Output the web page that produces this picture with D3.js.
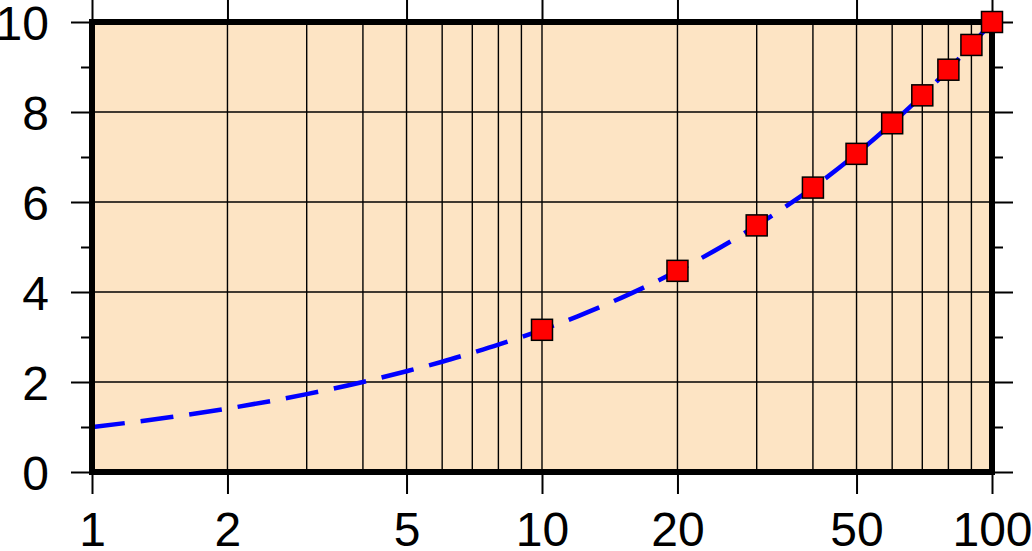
<!DOCTYPE html>
<html><head><meta charset="utf-8">
<script src="https://cdn.jsdelivr.net/npm/d3@7"></script>
<style>body{margin:0;background:#fff}svg{display:block}text{font-family:"Liberation Sans",Arial,sans-serif}</style>
</head><body><svg id="c" width="1032" height="551"></svg>
<script>
const xTickLabels = [1, 2, 5, 10, 20, 50, 100];
const xGrid = [2, 3, 4, 5, 6, 7, 8, 9, 10, 20, 30, 40, 50, 60, 70, 80, 90];
const yTickLabels = [0, 2, 4, 6, 8, 10];
const yMinor = [1, 3, 5, 7, 9];
const yGrid = [2, 4, 6, 8];
const curveX = [1, 1.5, 2, 3, 4, 5, 6, 7, 8, 9, 10, 12, 15, 20, 25, 30, 40, 50, 60, 70, 80, 90, 100];
const curveY = [1, 1.22, 1.41, 1.73, 2, 2.24, 2.45, 2.65, 2.83, 3, 3.16, 3.46, 3.87, 4.47, 5, 5.48, 6.32, 7.07, 7.75, 8.37, 8.94, 9.49, 10];
const pointX = [10, 20, 30, 40, 50, 60, 70, 80, 90, 100];
const pointY = [3.16, 4.47, 5.48, 6.32, 7.07, 7.75, 8.37, 8.94, 9.49, 10];

const svg = d3.select("#c");
const L = 92, R = 992, T = 22, B = 472;
const x = d3.scaleLog().domain([1, 100]).range([L, R]);
const y = d3.scaleLinear().domain([0, 10]).range([B, T]);

svg.append("rect").attr("x", L).attr("y", T).attr("width", R - L).attr("height", B - T).attr("fill", "#fde4c4");

const g = svg.append("g").attr("stroke", "#000").attr("stroke-width", 1.4);
g.selectAll(".gx").data(xGrid).join("line").attr("x1", d => x(d)).attr("x2", d => x(d)).attr("y1", T).attr("y2", B);
g.selectAll(".gy").data(yGrid).join("line").attr("y1", d => y(d)).attr("y2", d => y(d)).attr("x1", L).attr("x2", R);

// axes ticks via d3 axes
const tickStyle = sel => { sel.select(".domain").remove(); sel.selectAll("line").attr("stroke", "#000").attr("stroke-width", 2); };
svg.append("g").attr("transform", `translate(0,${B})`)
  .call(d3.axisBottom(x).tickValues(xTickLabels).tickSize(22).tickPadding(18).tickFormat(d3.format("d")))
  .call(tickStyle).selectAll("text").attr("font-size", 48).attr("fill", "#000").attr("font-family", "Liberation Sans, Arial, sans-serif");
svg.append("g").attr("transform", `translate(0,${T})`)
  .call(d3.axisTop(x).tickValues(xTickLabels).tickSize(22).tickFormat(""))
  .call(tickStyle);
svg.append("g").attr("transform", `translate(${L},0)`)
  .call(d3.axisLeft(y).tickValues(yTickLabels).tickSize(21).tickPadding(22).tickFormat(d3.format("d")))
  .call(tickStyle).selectAll("text").attr("font-size", 48).attr("fill", "#000").attr("dy", "0.36em").attr("font-family", "Liberation Sans, Arial, sans-serif");
svg.append("g").attr("transform", `translate(${L},0)`)
  .call(d3.axisLeft(y).tickValues(yMinor).tickSize(11).tickFormat(""))
  .call(tickStyle);
svg.append("g").attr("transform", `translate(${R},0)`)
  .call(d3.axisRight(y).tickValues(yTickLabels).tickSize(21).tickFormat(""))
  .call(tickStyle);
svg.append("g").attr("transform", `translate(${R},0)`)
  .call(d3.axisRight(y).tickValues(yMinor).tickSize(11).tickFormat(""))
  .call(tickStyle);

// curve
const data = curveX.map((v, i) => [v, curveY[i]]);
svg.append("path").datum(data)
  .attr("d", d3.line().x(d => x(d[0])).y(d => y(d[1])).curve(d3.curveMonotoneX))
  .attr("fill", "none").attr("stroke", "#0000ff").attr("stroke-width", 4.5).attr("stroke-dasharray", "33,16");

// frame
svg.append("rect").attr("x", L).attr("y", T).attr("width", R - L).attr("height", B - T)
  .attr("fill", "none").attr("stroke", "#000").attr("stroke-width", 6);

// markers
const s = 21;
svg.selectAll(".pt").data(pointX.map((v, i) => [v, pointY[i]])).join("rect")
  .attr("x", d => x(d[0]) - s / 2).attr("y", d => y(d[1]) - s / 2).attr("width", s).attr("height", s)
  .attr("fill", "#ff0000").attr("stroke", "#000").attr("stroke-width", 1.5);
</script></body></html>
